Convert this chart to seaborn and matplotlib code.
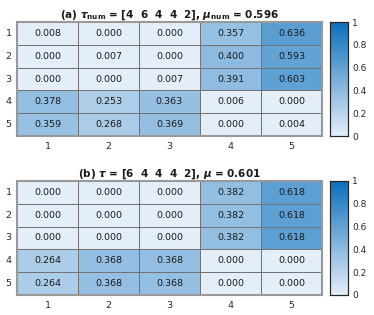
import numpy as np
import matplotlib
matplotlib.use("Agg")
import matplotlib.pyplot as plt
import seaborn as sns
from matplotlib.colors import LinearSegmentedColormap

# values
labels = [1, 2, 3, 4, 5]
vals_a = [[0.008, 0.000, 0.000, 0.357, 0.636],
          [0.000, 0.007, 0.000, 0.400, 0.593],
          [0.000, 0.000, 0.007, 0.391, 0.603],
          [0.378, 0.253, 0.363, 0.006, 0.000],
          [0.359, 0.268, 0.369, 0.000, 0.004]]
vals_b = [[0.000, 0.000, 0.000, 0.382, 0.618],
          [0.000, 0.000, 0.000, 0.382, 0.618],
          [0.000, 0.000, 0.000, 0.382, 0.618],
          [0.264, 0.368, 0.368, 0.000, 0.000],
          [0.264, 0.368, 0.368, 0.000, 0.000]]
title_a = r"(a) $\boldsymbol{\tau}_{\mathbf{num}}$ = [4  6  4  4  2], $\boldsymbol{\mu}_{\mathbf{num}}$ = 0.596"
title_b = r"(b) $\boldsymbol{\tau}$ = [6  4  4  4  2], $\boldsymbol{\mu}$ = 0.601"

sns.set_style("white")
plt.rcParams['font.family'] = ['DejaVu Sans']
cmap = LinearSegmentedColormap.from_list("sky", ["#e4eef8", "#0a6fbb"])

fig = plt.figure(figsize=(3.74, 3.15), dpi=100)
W, H = 374.0, 315.0
panels = [(vals_a, title_a, 22), (vals_b, title_b, 181)]
for vals, title, top in panels:
    ax = fig.add_axes([17 / W, (H - top - 114) / H, 305 / W, 114 / H])
    cax = fig.add_axes([330 / W, (H - top - 114) / H, 18 / W, 114 / H])
    sns.heatmap(np.array(vals), ax=ax, cbar_ax=cax, cmap=cmap, vmin=0, vmax=1,
                annot=True, fmt=".3f", annot_kws={"fontsize": 6.8, "color": "#1a1a1a"},
                linewidths=0.6, linecolor="#737373",
                xticklabels=labels, yticklabels=labels)
    ax.tick_params(length=0, labelsize=6.8, pad=4, labelcolor="#262626")
    ax.set_yticklabels(labels, rotation=0)
    for s in ax.spines.values():
        s.set_visible(True)
        s.set_color("#999999")
        s.set_linewidth(1.5)
    ax.set_title(title, fontsize=7.5, fontweight="bold", pad=3, color="#1a1a1a")
    cax.set_yticks([0, 0.2, 0.4, 0.6, 0.8, 1])
    cax.set_yticklabels(["0", "0.2", "0.4", "0.6", "0.8", "1"])
    cax.tick_params(labelsize=6.5, direction="in", length=2, width=0.6, pad=3,
                    labelcolor="#262626")
    for s in cax.spines.values():
        s.set_visible(True)
        s.set_color("#262626")
        s.set_linewidth(0.8)

fig.savefig("out.png", dpi=100)
